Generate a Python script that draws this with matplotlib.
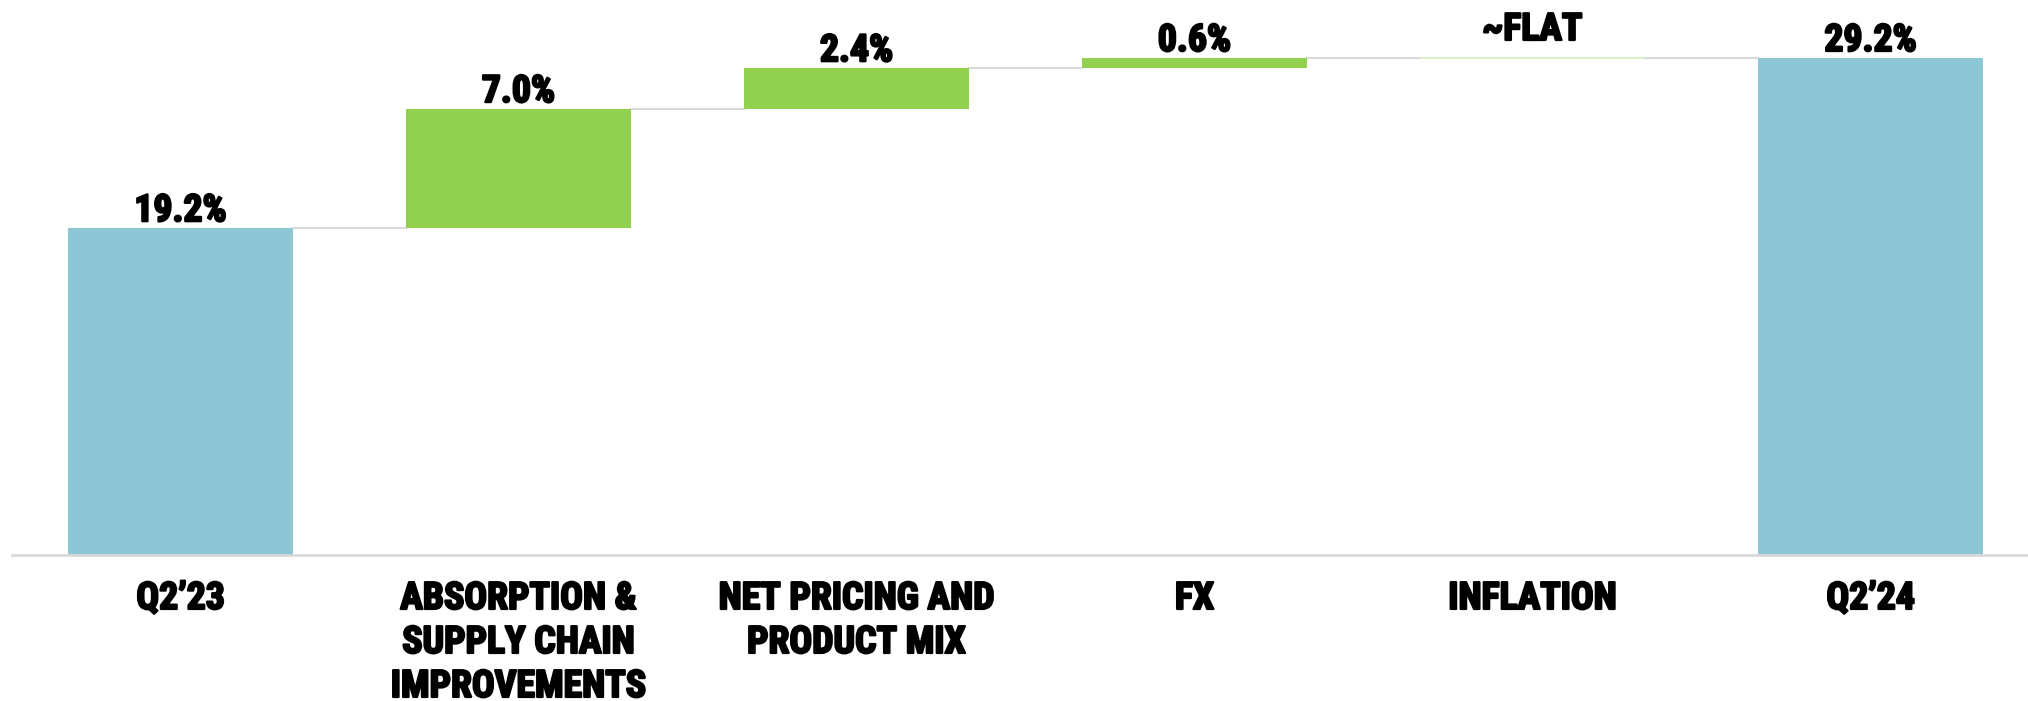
import os
import matplotlib
matplotlib.use("Agg")
import matplotlib.pyplot as plt
import matplotlib.patheffects as pe
from matplotlib import font_manager as fm

# Datos del puente de margen
categorias = [["Q2’23"],
              ["ABSORPTION &", "SUPPLY CHAIN", "IMPROVEMENTS"],
              ["NET PRICING AND", "PRODUCT MIX"],
              ["FX"],
              ["INFLATION"],
              ["Q2’24"]]
inicio = 19.2
cambios = [7.0, 2.4, 0.6, 0.0]
final = 29.2
textos = ["19.2%", "7.0%", "2.4%", "0.6%", "~FLAT", "29.2%"]

AZUL = "#8dc6d4"
VERDE = "#92d050"
VERDE_CLARO = "#d6eec4"
GRIS = "#d9d9d9"


def elegir_fuente():
    # busca una fuente gruesa y estrecha entre las instaladas
    preferidas = ["NotoSans-ExtraCondensedBlack", "NotoSans-CondensedBlack",
                  "NotoSans-ExtraCondensedExtraBold", "NotoSans-CondensedExtraBold",
                  "RobotoCondensed-Black", "RobotoCondensed-ExtraBold",
                  "RobotoCondensed-Bold", "NotoSans-ExtraCondensedBold",
                  "NotoSans-CondensedBold", "LiberationSansNarrow-Bold",
                  "DejaVuSansCondensed-Bold"]
    rutas = [f.fname for f in fm.fontManager.ttflist]
    for p in preferidas:
        for r in rutas:
            if os.path.basename(r).startswith(p + "."):
                return fm.FontProperties(fname=r)
    return fm.FontProperties(family="DejaVu Sans", weight="bold",
                             stretch="condensed")


fuente = elegir_fuente()
grueso = [pe.withStroke(linewidth=1.6, foreground="black")]

# Bases y alturas de cada barra
bases = [0]
alturas = [inicio]
acum = inicio
for c in cambios:
    bases.append(acum)
    alturas.append(c)
    acum += c
bases.append(0)
alturas.append(final)
colores = [AZUL] + [VERDE] * len(cambios) + [AZUL]

fig = plt.figure(figsize=(20.28, 7.01), dpi=100)
ax = fig.add_axes([0, 0, 1, 1])
ax.set_xlim(-0.534, 5.466)
ax.set_ylim(-8.58, 32.61)
ax.axis("off")

# tamaño de letra: que la linea mas larga no pase de ~255 px
renderer = fig.canvas.get_renderer()
prueba = ax.text(0, 0, "IMPROVEMENTS", fontproperties=fuente, fontsize=29)
ancho_px = prueba.get_window_extent(renderer).width
prueba.remove()
tam = min(29.5, 29 * 255 / ancho_px)

ancho = 0.666
x = list(range(len(alturas)))
for i in x:
    if alturas[i] == 0:
        ax.bar(i, 0, ancho, bottom=bases[i], color=VERDE_CLARO,
               edgecolor=VERDE_CLARO, linewidth=1.2, zorder=3)
    else:
        ax.bar(i, alturas[i], ancho, bottom=bases[i], color=colores[i],
               linewidth=0, zorder=3)

# Lineas de conexion entre barras
for i in x[:-1]:
    nivel = bases[i] + alturas[i]
    ax.plot([i + ancho / 2, i + 1 - ancho / 2], [nivel, nivel],
            color=GRIS, linewidth=1.5, zorder=2)

# Eje base
ax.axhline(0, xmin=12 / 2028, xmax=1, color=GRIS, linewidth=2, zorder=4)

# Etiquetas de valor
for i in x:
    tope = bases[i] + alturas[i]
    dy = 18 if textos[i].startswith("~") else 7
    ax.annotate(textos[i], xy=(i, tope), xytext=(0, dy),
                textcoords="offset pixels", ha="center", va="baseline",
                fontproperties=fuente, fontsize=tam, path_effects=grueso)

# Etiquetas de categoria
for i, lineas in enumerate(categorias):
    for k, linea in enumerate(lineas):
        ax.annotate(linea, xy=(i, 0), xytext=(0, -54 - 44 * k),
                    textcoords="offset pixels", ha="center", va="baseline",
                    fontproperties=fuente, fontsize=tam, path_effects=grueso)

fig.savefig("out.png", dpi=100)
plt.close(fig)
